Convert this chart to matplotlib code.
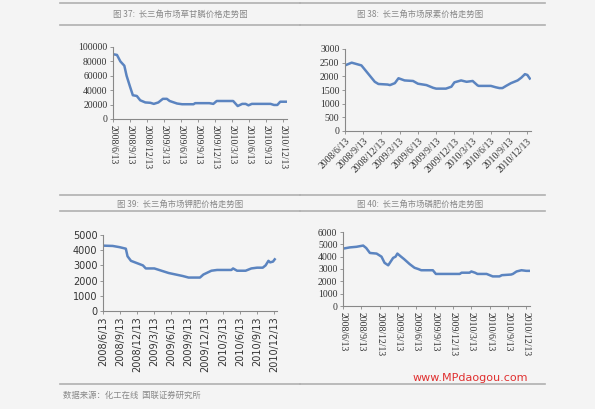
import matplotlib
matplotlib.use("Agg")
import matplotlib.pyplot as plt

tick_labels = ["2008/6/13","2008/9/13","2008/12/13","2009/3/13","2009/6/13","2009/9/13",
               "2009/12/13","2010/3/13","2010/6/13","2010/9/13","2010/12/13"]
tick_pos = [0,3,6,9,12,15,18,21,24,27,30]

# months since 2008/6/13
gly_m = [0,0.7,1.3,2,2.4,3,3.5,4.2,4.8,5.7,6.6,7.2,8,8.8,9.5,10,11.3,12.2,14.2,14.5,17,17.7,18.3,21.2,22,22.8,23.4,23.9,24.5,27.8,28.4,29,29.5,30.7]
gly_v = [90000,89000,80000,74000,60000,45000,33000,32000,26000,23000,22500,21000,23000,28000,28000,25000,21500,20500,20500,22000,22000,21000,25000,25000,18000,21000,21000,19000,21000,21000,19500,19500,24000,24000]

urea_m = [0,1.1,1.9,2.7,3.8,4.9,5.5,7,7.4,8.2,8.8,9.8,11.2,12,13.4,14.5,15,16.6,17.5,18,19.1,20,21,21.8,22,24,24.8,25.4,25.9,26.5,27.3,28.4,29,29.6,30,30.4]
urea_v = [2400,2500,2450,2400,2100,1800,1720,1700,1680,1750,1930,1850,1830,1730,1680,1580,1550,1550,1620,1780,1850,1800,1830,1670,1650,1650,1600,1570,1570,1650,1750,1850,1950,2080,2050,1920]

pot_m = [0,1.7,2.9,4,4.3,4.9,7,7.5,9,11.5,14,15,17,17.6,19,20,22.5,22.8,23.5,25,26,27,28,28.5,29,29.3,29.8,30.1]
pot_v = [4300,4280,4200,4100,3600,3300,3000,2800,2800,2500,2300,2200,2200,2400,2650,2700,2700,2800,2650,2650,2800,2850,2850,3000,3300,3200,3250,3400]

pho_m = [0,1.1,2.2,3.3,3.8,4.4,5.5,6.3,6.8,7.4,8.2,8.6,8.9,9.5,10,10.9,11.7,12.3,12.8,14.7,15.2,19.1,19.4,20.7,21,21.6,22,23.5,24,24.5,25.6,26,27.5,27.8,28.4,29.2,30,30.5]
pho_v = [4650,4750,4800,4900,4700,4300,4250,4000,3500,3300,3900,4000,4250,4000,3800,3400,3100,3000,2900,2900,2600,2600,2700,2700,2800,2700,2600,2600,2500,2400,2400,2500,2550,2600,2800,2900,2850,2850]

titles = ["图 37:  长三角市场草甘膦价格走势图","图 38:  长三角市场尿素价格走势图",
          "图 39:  长三角市场钾肥价格走势图","图 40:  长三角市场磷肥价格走势图"]
source = "数据来源：化工在线  国联证券研究所"

W, H = 595, 409
fig = plt.figure(figsize=(W/100, H/100), dpi=100)
fig.patch.set_facecolor("#f4f4f4")
cjk = ["Noto Sans CJK SC", "DejaVu Sans"]
line_c = "#5b84c0"

def hline(y, x0, x1):
    fig.add_artist(plt.Line2D([x0/W, x1/W], [1-y/H, 1-y/H], color="#b0b0b0", lw=1.2))

def text(x, y, s, ha="center"):
    fig.text(x/W, 1-y/H, s, family=cjk, color="#888888", fontsize=6, ha=ha, va="center")

for x0, x1 in [(60, 300), (300, 545)]:
    hline(3, x0, x1); hline(25, x0, x1); hline(195, x0, x1); hline(211, x0, x1)
hline(384, 60, 300); hline(384, 300, 545)
text(180, 14, titles[0]); text(420, 14, titles[1])
text(180, 204, titles[2]); text(420, 204, titles[3])
text(63, 395, source, ha="left")
fig.text(470/W, 1-378/H, "www.MPdaogou.com", color="#e03030", fontsize=8, ha="center", va="center", family="DejaVu Sans")

def make(box, m, v, ymax, step, xend, rot, font, ha="center"):
    l, t, r, b = box
    ax = fig.add_axes([l/W, 1-b/H, (r-l)/W, (b-t)/H])
    ax.set_facecolor("none")
    ax.plot(m, v, color=line_c, lw=1.8)
    ax.set_xlim(0, xend); ax.set_ylim(0, ymax)
    ax.set_yticks(range(0, ymax+1, step))
    ax.set_xticks(tick_pos)
    ax.set_xticklabels(tick_labels, rotation=rot, ha=ha, rotation_mode="anchor" if rot == 45 else "default")
    for s in ["top", "right"]:
        ax.spines[s].set_visible(False)
    for s in ["left", "bottom"]:
        ax.spines[s].set_color("#888888")
    ax.tick_params(length=2, width=0.6, color="#888888", labelsize=7, pad=2)
    for lab in ax.get_xticklabels() + ax.get_yticklabels():
        lab.set_family(font); lab.set_color("#333333")
    return ax

make((113, 47, 287, 119), gly_m, gly_v, 100000, 20000, 30.7, -90, "Liberation Serif")
make((345, 49, 531, 131), urea_m, urea_v, 3000, 500, 30.6, 45, "Liberation Serif", ha="right")
make((103, 235, 277, 311), pot_m, pot_v, 5000, 1000, 30.5, 90, "DejaVu Sans")
make((343, 232, 530, 306), pho_m, pho_v, 6000, 1000, 30.6, -90, "Liberation Serif")

fig.savefig("out.png", dpi=100, facecolor=fig.get_facecolor())
